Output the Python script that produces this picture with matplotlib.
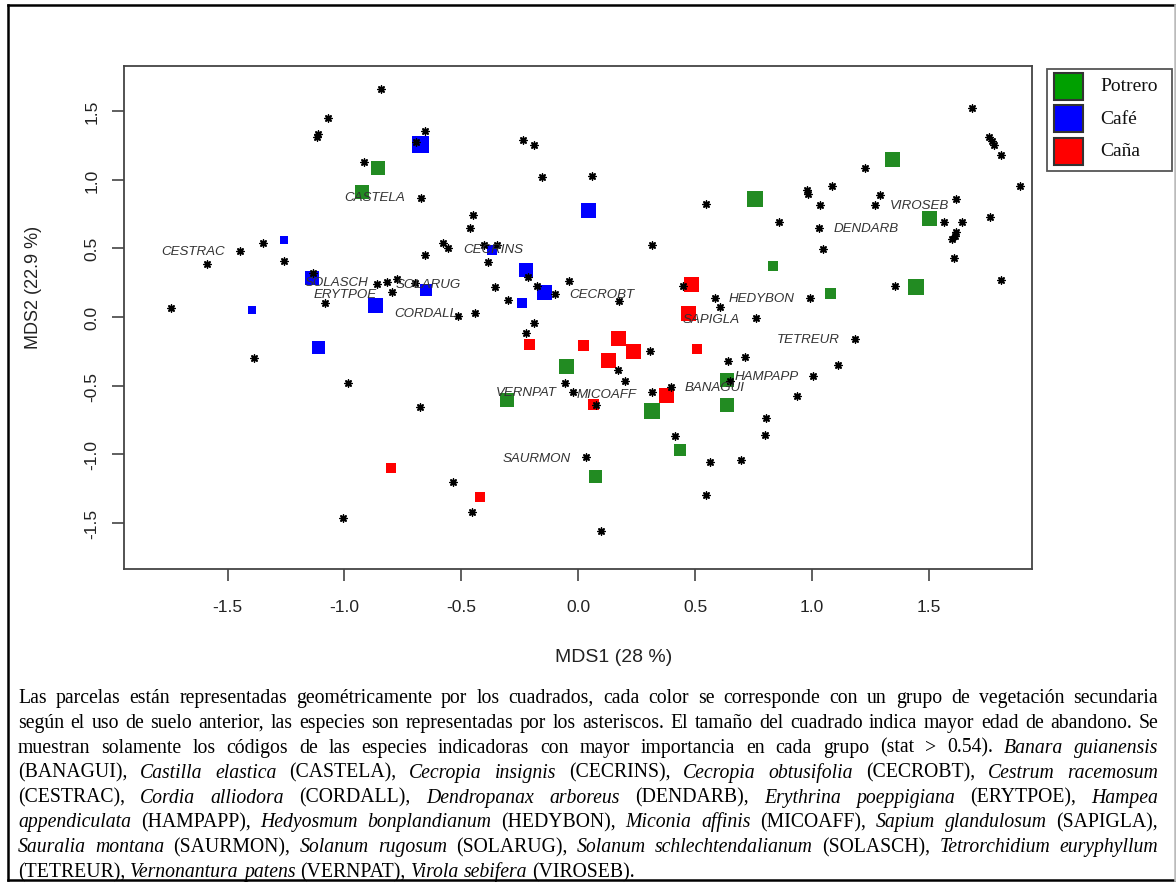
import matplotlib
matplotlib.use("Agg")
import matplotlib.pyplot as plt
from matplotlib.patches import Rectangle
from matplotlib.lines import Line2D
from matplotlib.transforms import IdentityTransform

W, H, DPI = 1176, 887, 100

# ---------------------------------------------------------------------------
# Parcelas (NMDS scores) grouped by previous land use; "edad" = relative
# abandonment age, drawn as the size of the square.
# ---------------------------------------------------------------------------
potrero_x = [-0.858, -0.924, 0.756, 0.834, 1.345, 1.504, 1.443, 1.080,
             -0.050, -0.306, 0.317, 0.637, 0.637, 0.435, 0.074]
potrero_y = [1.085, 0.913, 0.859, 0.369, 1.146, 0.721, 0.215, 0.172,
             -0.359, -0.602, -0.682, -0.457, -0.638, -0.966, -1.163]
potrero_edad = [1.4, 1.4, 1.6, 1.0, 1.5, 1.5, 1.6, 1.1,
                1.5, 1.4, 1.6, 1.4, 1.4, 1.2, 1.3]

cafe_x = [-0.673, 0.044, -1.257, -0.370, -0.224, -1.140, -0.145, -0.241,
          -0.653, -0.867, -1.394, -1.112]
cafe_y = [1.253, 0.777, 0.558, 0.490, 0.342, 0.282, 0.175, 0.100,
          0.199, 0.082, 0.053, -0.221]
cafe_edad = [1.7, 1.5, 0.8, 1.0, 1.4, 1.4, 1.5, 1.0, 1.2, 1.5, 0.8, 1.3]

cana_x = [0.485, 0.473, -0.210, 0.023, 0.171, 0.235, 0.128, 0.509,
          0.066, 0.378, -0.802, -0.420]
cana_y = [0.240, 0.027, -0.197, -0.204, -0.153, -0.250, -0.318, -0.235,
          -0.636, -0.568, -1.100, -1.313]
cana_edad = [1.5, 1.5, 1.1, 1.1, 1.5, 1.5, 1.5, 1.0, 1.1, 1.5, 1.0, 1.0]

# ---------------------------------------------------------------------------
# Especies (asterisks)
# ---------------------------------------------------------------------------
especies_x = [-0.844, -1.069, -1.112, -1.118, -0.656, -0.694, -0.917, -0.673,
              -1.347, -1.446, -1.589, -1.260, -0.656, -0.577, -0.556, -1.133,
              -0.862, -0.819, -0.777, -0.700, -0.238, -0.188, -0.157, 0.057,
              0.545, -0.452, -0.462, -0.402, -0.346, -0.385, 0.317, -0.214,
              -0.040, -0.356, -0.178, 0.449, 1.684, 1.758, 1.768, 1.779,
              1.808, 1.888, 1.228, 0.980, 0.984, 1.084, 1.035, 1.292,
              1.268, 1.618, 1.563, 1.641, 1.618, 1.610, 1.600, 1.762,
              0.860, 1.031, 1.045, 1.607, 1.808, 1.355, 0.991, 1.183,
              1.112, 1.005, 0.934, 0.803, 0.799, -0.100, -0.299, 0.174,
              -0.442, -0.513, -0.188, -0.224, 0.307, 0.171, 0.201, -0.058,
              -0.021, 0.074, 0.314, 0.395, 0.649, 0.642, 0.713, 0.760,
              0.585, 0.606, 0.414, 0.563, 0.695, 0.546, 0.033, -0.535,
              -0.453, 0.097, -0.798, -1.083, -1.743, -1.387, -0.986, -0.677,
              -1.005]
especies_y = [1.660, 1.447, 1.330, 1.310, 1.357, 1.277, 1.127, 0.867,
              0.537, 0.478, 0.384, 0.405, 0.452, 0.539, 0.503, 0.318,
              0.240, 0.257, 0.277, 0.245, 1.291, 1.255, 1.022, 1.029,
              0.823, 0.741, 0.648, 0.527, 0.527, 0.403, 0.524, 0.294,
              0.260, 0.221, 0.228, 0.228, 1.520, 1.313, 1.284, 1.253,
              1.182, 0.956, 1.085, 0.927, 0.896, 0.952, 0.818, 0.891,
              0.818, 0.859, 0.692, 0.690, 0.621, 0.592, 0.568, 0.731,
              0.694, 0.648, 0.495, 0.430, 0.272, 0.228, 0.138, -0.160,
              -0.347, -0.432, -0.578, -0.738, -0.857, 0.168, 0.126, 0.114,
              0.029, 0.005, -0.046, -0.117, -0.250, -0.384, -0.464, -0.478,
              -0.549, -0.641, -0.549, -0.507, -0.464, -0.318, -0.294, -0.010,
              0.136, 0.071, -0.864, -1.056, -1.041, -1.294, -1.022, -1.199,
              -1.422, -1.556, 0.180, 0.102, 0.066, -0.301, -0.481, -0.658,
              -1.464]

# Indicator species codes and where their labels sit
codigos = ["CASTELA", "CESTRAC", "CECRINS", "SOLASCH", "SOLARUG", "ERYTPOE",
           "CORDALL", "CECROBT", "HEDYBON", "SAPIGLA", "TETREUR", "HAMPAPP",
           "BANAGUI", "MICOAFF", "VERNPAT", "SAURMON", "VIROSEB", "DENDARB"]
codigos_x = [-0.873, -1.649, -0.364, -1.033, -0.643, -0.998,
             -0.654, 0.100, 0.786, 0.570, 0.984, 0.805,
             0.585, 0.121, -0.224, -0.178, 1.461, 1.233]
codigos_y = [0.872, 0.478, 0.495, 0.252, 0.240, 0.170,
             0.027, 0.168, 0.138, -0.015, -0.160, -0.427,
             -0.507, -0.557, -0.549, -1.027, 0.818, 0.646]

grupos = ["Potrero", "Café", "Caña"]
colores_plot = ["#228b22", "#0000ff", "#ff0000"]
colores_leyenda = ["#00a000", "#0000ff", "#ff0000"]

x_ticks = [-1.5, -1.0, -0.5, 0.0, 0.5, 1.0, 1.5]
y_ticks = [-1.5, -1.0, -0.5, 0.0, 0.5, 1.0, 1.5]

caption_lines = [
    [("Las parcelas están representadas geométricamente por los cuadrados, cada color se corresponde con un grupo de vegetación secundaria", False)],
    [("según el uso de suelo anterior, las especies son representadas por los asteriscos. El tamaño del cuadrado indica mayor edad de abandono. Se", False)],
    [("muestran solamente los códigos de las especies indicadoras con mayor importancia en cada grupo (stat > 0.54).", False),
     ("Banara guianensis", True)],
    [("(BANAGUI),", False), ("Castilla elastica", True), ("(CASTELA),", False),
     ("Cecropia insignis", True), ("(CECRINS),", False), ("Cecropia obtusifolia", True),
     ("(CECROBT),", False), ("Cestrum racemosum", True)],
    [("(CESTRAC),", False), ("Cordia alliodora", True), ("(CORDALL),", False),
     ("Dendropanax arboreus", True), ("(DENDARB),", False), ("Erythrina poeppigiana", True),
     ("(ERYTPOE),", False), ("Hampea", True)],
    [("appendiculata", True), ("(HAMPAPP),", False), ("Hedyosmum bonplandianum", True),
     ("(HEDYBON),", False), ("Miconia affinis", True), ("(MICOAFF),", False),
     ("Sapium glandulosum", True), ("(SAPIGLA),", False)],
    [("Sauralia montana", True), ("(SAURMON),", False), ("Solanum rugosum", True),
     ("(SOLARUG),", False), ("Solanum schlechtendalianum", True), ("(SOLASCH),", False),
     ("Tetrorchidium euryphyllum", True)],
    [("(TETREUR),", False), ("Vernonantura patens", True), ("(VERNPAT),", False),
     ("Virola sebifera", True), ("(VIROSEB).", False)],
]

SANS = ["Liberation Sans", "DejaVu Sans"]
SERIF = ["Liberation Serif", "DejaVu Serif"]

fig = plt.figure(figsize=(W / DPI, H / DPI), dpi=DPI, facecolor="white")
ident = IdentityTransform()


def px_box(left, top, right, bottom):
    return [left / W, 1 - bottom / H, (right - left) / W, (bottom - top) / H]


ax = fig.add_axes(px_box(124, 67, 1032, 570))
ax.set_xlim(-1.943, 1.941)
ax.set_ylim(-1.835, 1.828)


def square_area(edad):
    # edad -> square side of edad*10 px, expressed as scatter area in pt^2
    return [(e * 10 * 72 / DPI) ** 2 for e in edad]


for xs, ys, ed, col in [(potrero_x, potrero_y, potrero_edad, colores_plot[0]),
                        (cafe_x, cafe_y, cafe_edad, colores_plot[1]),
                        (cana_x, cana_y, cana_edad, colores_plot[2])]:
    ax.scatter(xs, ys, s=square_area(ed), marker="s", c=col,
               linewidths=0, zorder=2)

ax.scatter(especies_x, especies_y, s=26, marker=(8, 2, 0), c="black",
           linewidths=1.05, zorder=3)

for cod, cx, cy in zip(codigos, codigos_x, codigos_y):
    ax.text(cx, cy, cod, ha="center", va="center", style="italic",
            fontsize=9.6, family=SANS, color="#333333", zorder=4)

ax.set_xticks(x_ticks)
ax.set_xticklabels([f"{v:.1f}" for v in x_ticks])
ax.set_yticks(y_ticks)
ax.set_yticklabels([f"{v:.1f}" for v in y_ticks], rotation=90, va="center")
ax.tick_params(direction="out", length=8.6, width=1.2, color="#444444",
               labelsize=12.5, labelcolor="#222222")
ax.tick_params(axis="x", pad=13)
ax.tick_params(axis="y", pad=9)
for lab in ax.get_xticklabels() + ax.get_yticklabels():
    lab.set_family(SANS)
for s in ax.spines.values():
    s.set_color("#444444")
    s.set_linewidth(1.3)

fig.text(614 / W, 1 - 658 / H, "MDS1 (28 %)", ha="center", va="center",
         fontsize=14, family=SANS, color="#222222")
fig.text(33 / W, 1 - 287 / H, "MDS2 (22.9 %)", ha="center", va="center",
         rotation=90, fontsize=13, family=SANS, color="#222222")

# Legend box drawn in pixel units
fig.patches.append(Rectangle((1047, H - 171.5), 124.5, 102, transform=ident,
                             fill=False, edgecolor="#555555", linewidth=1.3))
for i, (g, col) in enumerate(zip(grupos, colores_leyenda)):
    cy = 87 + 32.5 * i
    fig.patches.append(Rectangle((1053.5, H - cy - 13.5), 29.5, 27, transform=ident,
                                 facecolor=col, edgecolor="#333333",
                                 linewidth=1.5))
    fig.text(1100, H - cy, g, transform=ident, ha="left", va="center",
             fontsize=14, family=SERIF, color="#111111")

# Page frame around the figure and caption
for xs, ys, col in [((8, 8), (6, 881), "black"),
                    ((8, 1174.5), (6, 6), "black"),
                    ((8, 1174.5), (881, 881), "black"),
                    ((1174.5, 1174.5), (6, 881), "#bbbbbb")]:
    fig.lines.append(Line2D(xs, [H - y for y in ys], transform=ident,
                            color=col, linewidth=1.8))

# Justified caption
renderer = fig.canvas.get_renderer()
CAP_FS = 14.2
left_px, right_px = 18, 1158
base0, step = 703, 24.9
sp = fig.text(0, 0, "a a", fontsize=CAP_FS, family=SERIF, transform=ident)
sp2 = fig.text(0, 0, "aa", fontsize=CAP_FS, family=SERIF, transform=ident)
space_w = sp.get_window_extent(renderer).width - sp2.get_window_extent(renderer).width
sp.remove()
sp2.remove()

for i, line in enumerate(caption_lines):
    words = []
    for seg, it in line:
        for w in seg.split():
            words.append((w, it))
    artists = [fig.text(0, 0, w, fontsize=CAP_FS, family=SERIF,
                        style="italic" if it else "normal", transform=ident,
                        va="baseline", ha="left", color="#000000")
               for w, it in words]
    widths = [a.get_window_extent(renderer).width for a in artists]
    if i == len(caption_lines) - 1:
        gap = space_w
    else:
        gap = (right_px - left_px - sum(widths)) / (len(words) - 1)
    x = left_px
    y = H - (base0 + step * i)
    for a, wd in zip(artists, widths):
        a.set_position((x, y))
        x += wd + gap

fig.savefig("out.png", dpi=DPI, facecolor="white")
